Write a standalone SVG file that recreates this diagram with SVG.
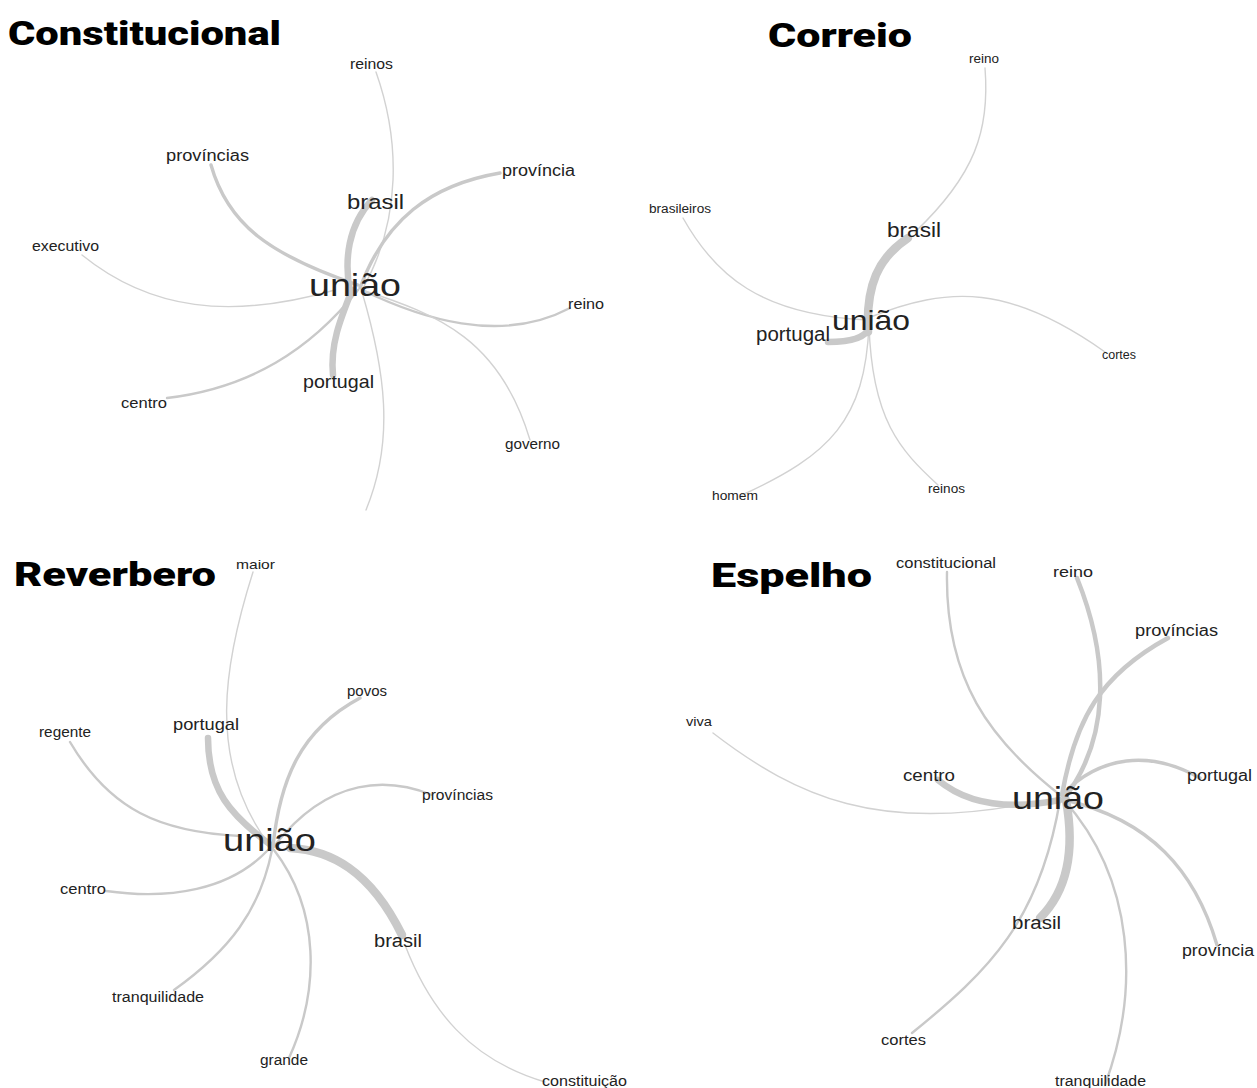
<svg xmlns="http://www.w3.org/2000/svg" width="1257" height="1088" viewBox="0 0 1257 1088">
  <style>
    .e { fill: none; stroke: #c9c9c9; stroke-linecap: round; }
    .w1 { stroke-width: 1.4; stroke: #d2d2d2; }
    .w2 { stroke-width: 2.4; }
    .w3 { stroke-width: 3.4; }
    .w4 { stroke-width: 4.5; }
    .w6 { stroke-width: 6.5; }
    .w8 { stroke-width: 8.5; }
    .t { font-family: "Liberation Sans", Arial, sans-serif; fill: #222; }
    .h { font-family: Roboto, "Liberation Sans", Arial, sans-serif; font-weight: 900; fill: #000; font-size: 34px; }
  </style>
  <rect width="1257" height="1088" fill="#fff"/>

  <!-- Panel 1: Constitucional -->
  <g id="p1-edges">
    <path class="e w1" d="M376,72 C400,140 402,220 362,290"/>
    <path class="e w3" d="M211,165 C228,225 270,255 358,285"/>
    <path class="e w1" d="M82,255 C150,310 230,320 335,290"/>
    <path class="e w3" d="M500,173 C430,185 385,220 360,288"/>
    <path class="e w2" d="M362,290 C420,318 500,345 570,308"/>
    <path class="e w1" d="M362,290 C440,315 500,340 530,440"/>
    <path class="e w2" d="M167,398 C250,388 310,350 358,290"/>
    <path class="e w1" d="M362,292 C385,370 395,440 366,510"/>
    <path class="e w6" d="M350,292 C344,260 348,225 372,200"/>
    <path class="e w6" d="M352,290 C340,320 330,345 333,375"/>
  </g>
  <text class="h" x="8" y="45" textLength="273" lengthAdjust="spacingAndGlyphs">Constitucional</text>
  <g id="p1-uniao"><text class="t" x="309" y="296" font-size="32" textLength="92" lengthAdjust="spacingAndGlyphs">união</text></g>
  <g id="p1-brasil"><text class="t" x="347" y="209" font-size="20" textLength="57" lengthAdjust="spacingAndGlyphs">brasil</text></g>
  <g id="p1-portugal"><text class="t" x="303" y="388" font-size="19" textLength="71" lengthAdjust="spacingAndGlyphs">portugal</text></g>
  <g id="p1-provincias"><text class="t" x="166" y="161" font-size="16" textLength="83" lengthAdjust="spacingAndGlyphs">províncias</text></g>
  <g id="p1-reinos"><text class="t" x="350" y="69" font-size="14" textLength="43" lengthAdjust="spacingAndGlyphs">reinos</text></g>
  <g id="p1-provincia"><text class="t" x="502" y="176" font-size="16" textLength="73" lengthAdjust="spacingAndGlyphs">província</text></g>
  <g id="p1-executivo"><text class="t" x="32" y="251" font-size="14" textLength="67" lengthAdjust="spacingAndGlyphs">executivo</text></g>
  <g id="p1-reino"><text class="t" x="568" y="309" font-size="14" textLength="36" lengthAdjust="spacingAndGlyphs">reino</text></g>
  <g id="p1-centro"><text class="t" x="121" y="408" font-size="14" textLength="46" lengthAdjust="spacingAndGlyphs">centro</text></g>
  <g id="p1-governo"><text class="t" x="505" y="449" font-size="14" textLength="55" lengthAdjust="spacingAndGlyphs">governo</text></g>

  <!-- Panel 2: Correio -->
  <g id="p2-edges">
    <path class="e w1" d="M985,68 C990,130 975,175 915,232"/>
    <path class="e w1" d="M683,218 C715,275 760,315 868,320"/>
    <path class="e w1" d="M868,318 C950,285 1010,285 1105,352"/>
    <path class="e w1" d="M869,325 C865,420 830,455 742,495"/>
    <path class="e w1" d="M869,325 C872,420 900,450 938,485"/>
    <path class="e w8" d="M908,238 C878,258 866,285 868,332"/>
    <path class="e w6" d="M869,328 C866,336 855,342 828,342"/>
  </g>
  <text class="h" x="768" y="47" textLength="144" lengthAdjust="spacingAndGlyphs">Correio</text>
  <g id="p2-uniao"><text class="t" x="832" y="330" font-size="28" textLength="78" lengthAdjust="spacingAndGlyphs">união</text></g>
  <g id="p2-reino"><text class="t" x="969" y="63" font-size="12" textLength="30" lengthAdjust="spacingAndGlyphs">reino</text></g>
  <g id="p2-brasileiros"><text class="t" x="649" y="213" font-size="12" textLength="62" lengthAdjust="spacingAndGlyphs">brasileiros</text></g>
  <g id="p2-brasil"><text class="t" x="887" y="237" font-size="20" textLength="54" lengthAdjust="spacingAndGlyphs">brasil</text></g>
  <g id="p2-portugal"><text class="t" x="756" y="341" font-size="20" textLength="74" lengthAdjust="spacingAndGlyphs">portugal</text></g>
  <g id="p2-cortes"><text class="t" x="1102" y="359" font-size="12" textLength="34" lengthAdjust="spacingAndGlyphs">cortes</text></g>
  <g id="p2-homem"><text class="t" x="712" y="500" font-size="12" textLength="46" lengthAdjust="spacingAndGlyphs">homem</text></g>
  <g id="p2-reinos"><text class="t" x="928" y="493" font-size="12" textLength="37" lengthAdjust="spacingAndGlyphs">reinos</text></g>

  <!-- Panel 3: Reverbero -->
  <g id="p3-edges">
    <path class="e w1" d="M253,572 C225,660 205,760 270,846"/>
    <path class="e w6" d="M208,738 C208,790 230,815 272,846"/>
    <path class="e w2" d="M70,742 C110,810 160,832 240,836"/>
    <path class="e w3" d="M360,698 C300,730 280,780 273,846"/>
    <path class="e w2" d="M432,795 C390,778 330,775 275,845"/>
    <path class="e w8" d="M290,848 C330,850 370,870 402,935"/>
    <path class="e w1" d="M405,945 C430,1010 470,1060 545,1082"/>
    <path class="e w2" d="M106,891 C170,900 230,890 268,850"/>
    <path class="e w2" d="M174,990 C230,950 260,910 272,850"/>
    <path class="e w2" d="M289,1058 C320,990 320,910 274,850"/>
  </g>
  <text class="h" x="14" y="586" textLength="202" lengthAdjust="spacingAndGlyphs">Reverbero</text>
  <g id="p3-uniao"><text class="t" x="223" y="851" font-size="32" textLength="93" lengthAdjust="spacingAndGlyphs">união</text></g>
  <g id="p3-maior"><text class="t" x="236" y="569" font-size="13" textLength="39" lengthAdjust="spacingAndGlyphs">maior</text></g>
  <g id="p3-povos"><text class="t" x="347" y="696" font-size="14" textLength="40" lengthAdjust="spacingAndGlyphs">povos</text></g>
  <g id="p3-portugal"><text class="t" x="173" y="730" font-size="17" textLength="66" lengthAdjust="spacingAndGlyphs">portugal</text></g>
  <g id="p3-regente"><text class="t" x="39" y="737" font-size="14" textLength="52" lengthAdjust="spacingAndGlyphs">regente</text></g>
  <g id="p3-provincias"><text class="t" x="422" y="800" font-size="14" textLength="71" lengthAdjust="spacingAndGlyphs">províncias</text></g>
  <g id="p3-centro"><text class="t" x="60" y="894" font-size="14" textLength="46" lengthAdjust="spacingAndGlyphs">centro</text></g>
  <g id="p3-brasil"><text class="t" x="374" y="947" font-size="18" textLength="48" lengthAdjust="spacingAndGlyphs">brasil</text></g>
  <g id="p3-tranquilidade"><text class="t" x="112" y="1002" font-size="14" textLength="92" lengthAdjust="spacingAndGlyphs">tranquilidade</text></g>
  <g id="p3-grande"><text class="t" x="260" y="1065" font-size="14" textLength="48" lengthAdjust="spacingAndGlyphs">grande</text></g>
  <g id="p3-constituicao"><text class="t" x="542" y="1086" font-size="14" textLength="85" lengthAdjust="spacingAndGlyphs">constituição</text></g>

  <!-- Panel 4: Espelho -->
  <g id="p4-edges">
    <path class="e w2" d="M947,572 C945,680 990,740 1060,795"/>
    <path class="e w4" d="M1077,578 C1110,660 1110,740 1063,800"/>
    <path class="e w4" d="M1168,638 C1100,675 1075,720 1062,795"/>
    <path class="e w1" d="M713,733 C800,800 880,830 1020,805"/>
    <path class="e w6" d="M938,780 C968,805 1010,810 1060,800"/>
    <path class="e w3" d="M1200,778 C1150,750 1100,755 1062,795"/>
    <path class="e w3" d="M1217,945 C1195,870 1150,820 1065,800"/>
    <path class="e w8" d="M1066,800 C1075,850 1068,890 1040,918"/>
    <path class="e w2" d="M912,1033 C990,970 1040,920 1060,800"/>
    <path class="e w2" d="M1105,1085 C1140,990 1135,880 1064,800"/>
  </g>
  <text class="h" x="711" y="587" textLength="161" lengthAdjust="spacingAndGlyphs">Espelho</text>
  <g id="p4-uniao"><text class="t" x="1012" y="809" font-size="32" textLength="92" lengthAdjust="spacingAndGlyphs">união</text></g>
  <g id="p4-constitucional"><text class="t" x="896" y="568" font-size="14" textLength="100" lengthAdjust="spacingAndGlyphs">constitucional</text></g>
  <g id="p4-reino"><text class="t" x="1053" y="577" font-size="15" textLength="40" lengthAdjust="spacingAndGlyphs">reino</text></g>
  <g id="p4-provincias"><text class="t" x="1135" y="636" font-size="16" textLength="83" lengthAdjust="spacingAndGlyphs">províncias</text></g>
  <g id="p4-viva"><text class="t" x="686" y="726" font-size="13" textLength="26" lengthAdjust="spacingAndGlyphs">viva</text></g>
  <g id="p4-centro"><text class="t" x="903" y="781" font-size="16" textLength="52" lengthAdjust="spacingAndGlyphs">centro</text></g>
  <g id="p4-portugal"><text class="t" x="1187" y="781" font-size="16" textLength="65" lengthAdjust="spacingAndGlyphs">portugal</text></g>
  <g id="p4-brasil"><text class="t" x="1012" y="929" font-size="18" textLength="49" lengthAdjust="spacingAndGlyphs">brasil</text></g>
  <g id="p4-provincia"><text class="t" x="1182" y="956" font-size="16" textLength="72" lengthAdjust="spacingAndGlyphs">província</text></g>
  <g id="p4-cortes"><text class="t" x="881" y="1045" font-size="15" textLength="45" lengthAdjust="spacingAndGlyphs">cortes</text></g>
  <g id="p4-tranquilidade"><text class="t" x="1055" y="1086" font-size="14" textLength="91" lengthAdjust="spacingAndGlyphs">tranquilidade</text></g>
</svg>
